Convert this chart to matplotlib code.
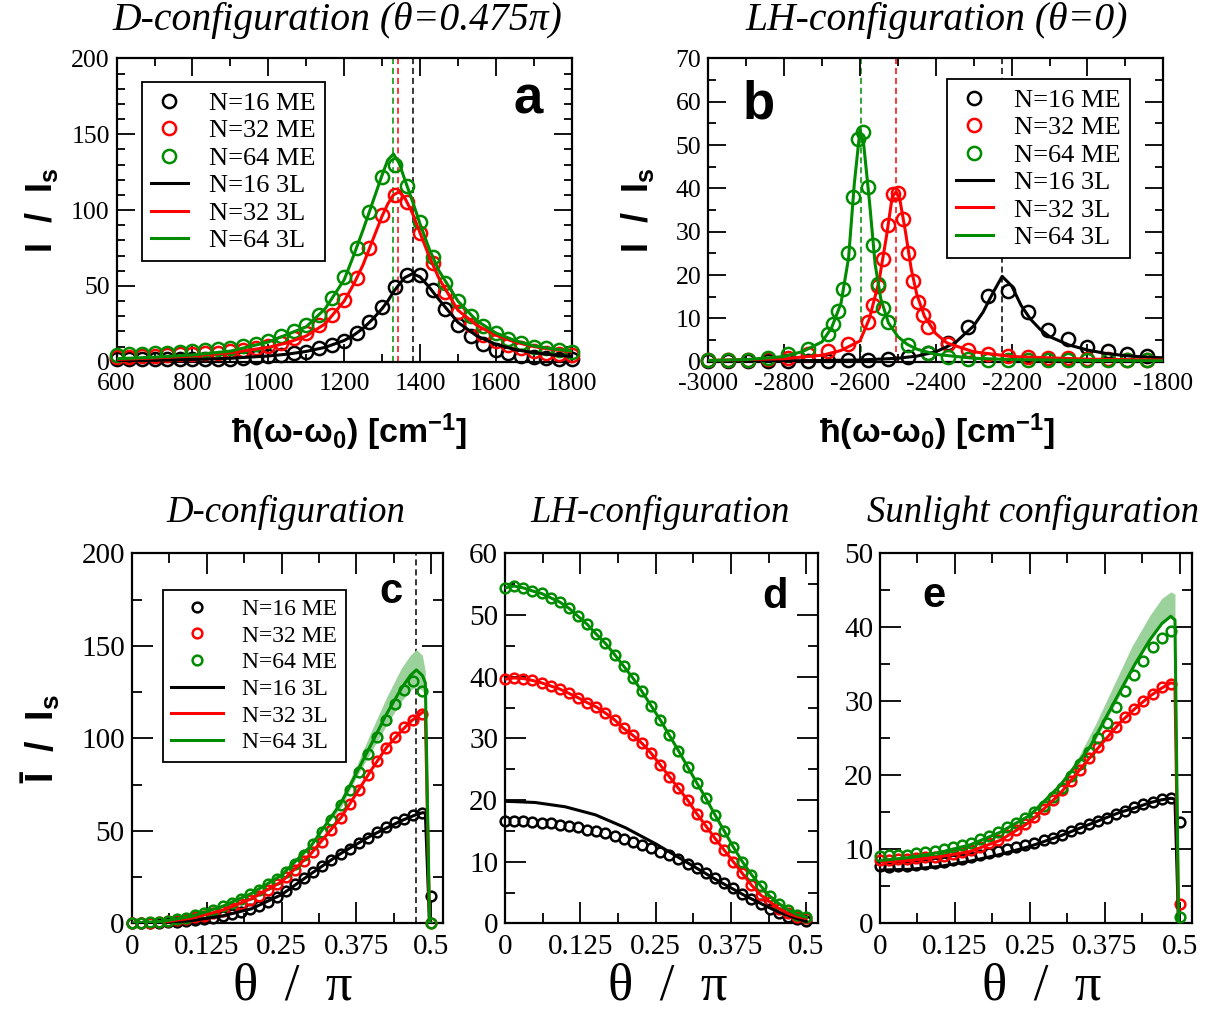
import numpy as np
import matplotlib
matplotlib.use('Agg')
import matplotlib.pyplot as plt
from matplotlib.ticker import MultipleLocator, FuncFormatter
from matplotlib.lines import Line2D

plt.rcParams['font.family'] = 'Liberation Serif'
plt.rcParams['axes.unicode_minus'] = False
plt.rcParams['mathtext.fontset'] = 'custom'
plt.rcParams['mathtext.rm'] = 'Liberation Sans:bold'
plt.rcParams['mathtext.it'] = 'Liberation Sans:bold'
plt.rcParams['mathtext.bf'] = 'Liberation Sans:bold'

BLACK, RED, GREEN = 'black', '#ff0000', '#008c00'
BAND = '#9bd29b'

# ---------------- panel a : D-configuration spectrum ----------------
a_x = np.linspace(600, 1800, 37)
a_me16 = [2, 2, 2, 1.5, 1.5, 1.5, 1.5, 1.5, 2, 2, 2.5, 3, 3.5, 4.4, 5.5, 6.6, 8.8, 11, 14, 19,
          26, 36, 49, 57, 57, 47, 35, 24, 17, 12, 8, 5.5, 3.7, 2.8, 2.2, 1.5, 1.5]
a_me32 = [3.3, 3.3, 3.7, 4, 4.4, 4.8, 5, 5.5, 6, 7, 7.7, 8.8, 10.3, 12.5, 15.4, 18.7, 24, 31, 41, 55,
          75, 97, 110, 105, 85, 65, 46, 33, 24, 17.5, 14, 11, 8.8, 7, 6, 5, 4.4]
a_me64 = [4.4, 5, 5, 5.5, 6, 6.6, 7, 7.7, 8.4, 9.2, 10.5, 12, 14, 17, 20, 24, 31, 42, 56, 75,
          99, 122, 130, 116, 92, 69, 52, 40, 30, 23.5, 19, 15, 12.5, 10, 9, 7.7, 6.6]
a_lx = [600, 700, 800, 900, 1000, 1050, 1100, 1150, 1200, 1225, 1250, 1275, 1300, 1315, 1330,
        1345, 1360, 1380, 1400, 1425, 1450, 1500, 1550, 1600, 1650, 1700, 1750, 1800]
a_3l16 = [0.5, 1, 1.5, 2.3, 3.8, 5, 6.8, 9.5, 14, 17.5, 22, 28, 35, 40, 46,
          51, 55.5, 58, 56, 49, 41, 26, 17, 11.5, 8, 6, 4.5, 3.5]
a_3l32 = [1.5, 2.5, 3.8, 6, 9.5, 12.5, 17, 25, 40, 51, 64, 80, 96, 104, 110,
          112, 108, 98, 85, 69, 55, 34, 24, 17.5, 13, 10, 8, 6.5]
a_3l64 = [2, 3, 4.5, 7, 13, 18, 23, 35, 54, 70, 87, 105, 123, 133, 137,
          131, 120, 106, 91, 74, 60, 40, 27, 19, 14, 10.5, 8.5, 7]
a_peaks = [1381, 1341, 1328]

# ---------------- panel b : LH-configuration spectrum ----------------
b_x16 = [-3000, -2947, -2895, -2842, -2789, -2737, -2684, -2631, -2579, -2526, -2474, -2421,
         -2368, -2316, -2263, -2210, -2158, -2105, -2052, -2000, -1947, -1895, -1842]
b_me16 = [0.1, 0.1, 0.1, 0.1, 0.2, 0.2, 0.2, 0.3, 0.5, 0.7, 1.0, 2.1,
          4.4, 8.0, 15.2, 16.3, 11.4, 7.4, 5.2, 3.5, 2.4, 1.8, 1.4]
b_x32 = [-3000, -2947, -2895, -2842, -2789, -2737, -2684, -2631, -2579, -2566, -2553, -2540,
         -2526, -2513, -2500, -2487, -2474, -2461, -2447, -2434, -2421, -2368, -2316, -2263,
         -2210, -2158, -2105, -2052, -2000, -1947, -1895, -1842]
b_me32 = [0.4, 0.4, 0.5, 0.6, 0.9, 1.7, 2.5, 4.0, 9.2, 13.1, 17.5, 23.7,
          31.6, 38.6, 39.0, 33.0, 25.0, 18.6, 13.8, 10.8, 8.1, 4.2, 2.6, 1.8,
          1.4, 1.1, 0.9, 0.8, 0.7, 0.6, 0.5, 0.5]
b_x64 = [-3000, -2947, -2895, -2842, -2789, -2737, -2684, -2671, -2658, -2645, -2631, -2618,
         -2605, -2592, -2579, -2566, -2553, -2540, -2526, -2474, -2421, -2368, -2316, -2263,
         -2210, -2158, -2105, -2052, -2000, -1947, -1895, -1842]
b_me64 = [0.4, 0.4, 0.5, 0.9, 1.7, 3.0, 6.5, 8.8, 11.8, 16.7, 25.2, 38.1,
          51.5, 52.9, 40.3, 26.9, 18.0, 12.5, 9.1, 3.8, 2.0, 1.0, 0.6, 0.5,
          0.4, 0.4, 0.3, 0.3, 0.3, 0.3, 0.3, 0.3]
b_lx16 = [-3000, -2800, -2600, -2500, -2450, -2400, -2350, -2300, -2275, -2250, -2225,
          -2200, -2175, -2150, -2125, -2100, -2050, -2000, -1950, -1900, -1850, -1800]
b_3l16 = [0.1, 0.2, 0.4, 0.8, 1.3, 2.3, 4.3, 8.3, 11.5, 15.8, 19.7,
          17.5, 13.0, 9.8, 7.5, 5.8, 3.9, 2.7, 1.9, 1.4, 1.1, 0.9]
b_lx32 = [-3000, -2800, -2700, -2650, -2600, -2575, -2550, -2530, -2515, -2505, -2495,
          -2480, -2465, -2450, -2430, -2400, -2370, -2300, -2200, -2000, -1800]
b_3l32 = [0.3, 0.7, 1.5, 2.6, 4.8, 10, 18.5, 29, 38, 39.2, 37.5,
          30, 21.5, 15.5, 10.5, 6.5, 4.3, 2.3, 1.2, 0.6, 0.4]
b_lx64 = [-3000, -2900, -2800, -2750, -2700, -2675, -2650, -2630, -2615, -2600, -2590, -2575,
          -2560, -2545, -2525, -2500, -2475, -2450, -2400, -2300, -2200, -2000, -1800]
b_3l64 = [0.3, 0.5, 1.2, 2.4, 4.6, 7.8, 13.5, 24, 41, 53.5, 50, 37,
          22.5, 14.5, 9, 5.8, 4.0, 2.9, 1.7, 0.8, 0.5, 0.3, 0.2]
b_peaks = [-2225, -2505, -2598]

# ---------------- panels c, d, e : angular dependence ----------------
theta = np.linspace(0, 0.5, 34)
c_me16 = [0, 0.1, 0.2, 0.3, 0.5, 0.8, 1.2, 1.7, 2.3, 3.1, 4.0, 5.0, 6.2, 7.6, 9.3, 11.3, 14.0,
          17.5, 21.1, 24.7, 27.7, 30.8, 34.1, 37.3, 40.4, 43.4, 46.3, 49.4, 52.1, 54.8, 56.6,
          58.4, 59.6, 14.8]
c_me32 = [0.1, 0.2, 0.4, 0.7, 1.1, 1.7, 2.4, 3.2, 4.2, 5.4, 6.8, 8.4, 10.3, 12.5, 15, 17.8, 21,
          24.8, 28.8, 33.5, 38.5, 44, 50.5, 57, 64.5, 72, 80, 88, 95, 101, 106, 110, 113.4, 0]
c_me64 = [0.2, 0.3, 0.5, 0.9, 1.4, 2.2, 3.1, 4.3, 5.8, 7.4, 9.2, 11.0, 13.1, 15.7, 18.2, 21.1,
          24.2, 27.7, 32.1, 37.0, 42.7, 49.4, 56.1, 63.8, 72.3, 81.8, 91.4, 100.7, 109.7, 118.4,
          126.3, 130.8, 125.6, 0]
c_lx = [0, 0.05, 0.1, 0.15, 0.2, 0.25, 0.3, 0.35, 0.4, 0.425, 0.45, 0.465, 0.475, 0.485, 0.49,
        0.497, 0.5]
c_3l16 = [0, 0.35, 1.5, 3.9, 7.9, 15.5, 27, 38, 47.5, 51.5, 55.5, 57.5, 58.8, 59.8, 59.8, 0, 0]
c_3l32 = [0.1, 0.6, 2.8, 6.9, 13.3, 22.5, 38, 57.5, 83, 95, 104, 109, 111.5, 114, 114.5, 0, 0]
c_3l64 = [0.2, 1.0, 3.8, 9, 16.2, 26, 42.2, 65.5, 97, 113, 127, 134, 137, 134, 130, 0, 0]
c_bx = [0.33, 0.35, 0.375, 0.4, 0.425, 0.45, 0.465, 0.475, 0.485, 0.49]
c_blo = [55, 63, 79, 93, 107, 120, 126, 128, 126, 122]
c_bhi = [57, 68, 85, 104, 122, 138, 145, 148, 145, 136]

d_me16 = [16.6, 16.6, 16.6, 16.5, 16.3, 16.2, 16.0, 15.8, 15.6, 15.2, 14.9, 14.6, 14.2, 13.7,
          13.2, 12.7, 12.2, 11.6, 11.1, 10.4, 9.7, 9.0, 8.2, 7.4, 6.6, 5.7, 4.8, 3.9, 3.1, 2.3,
          1.6, 1.1, 0.65, 0.4]
d_me32 = [39.6, 39.8, 39.7, 39.4, 39.0, 38.5, 38.0, 37.3, 36.6, 35.8, 35.1, 34.1, 33.0, 31.6,
          30.5, 29.2, 27.6, 25.7, 23.8, 21.9, 20.0, 17.8, 15.8, 13.8, 11.9, 10.0, 8.1, 6.2, 4.6,
          3.5, 2.4, 1.6, 1.1, 0.8]
d_me64 = [54.4, 54.7, 54.4, 53.9, 53.5, 52.8, 52.1, 51.1, 49.8, 48.5, 46.9, 45.4, 43.6, 41.7,
          39.8, 37.6, 35.3, 33.0, 30.5, 28.0, 25.4, 22.8, 20.3, 17.6, 15.0, 12.4, 10.0, 7.9, 6.1,
          4.4, 3.2, 2.2, 1.4, 1.0]
d_lx = [0, 0.05, 0.1, 0.15, 0.2, 0.25, 0.3, 0.35, 0.4, 0.45, 0.475, 0.5]
d_3l16 = [19.8, 19.6, 18.9, 17.6, 15.5, 12.9, 10.0, 7.1, 4.4, 2.0, 1.1, 0.3]

e_me16 = [7.7, 7.65, 7.7, 7.75, 7.85, 8.0, 8.1, 8.3, 8.5, 8.7, 9.0, 9.2, 9.45, 9.75, 10.0, 10.3,
          10.6, 10.8, 11.2, 11.6, 12.0, 12.5, 12.9, 13.4, 13.8, 14.3, 14.8, 15.2, 15.7, 16.1,
          16.4, 16.8, 17.0, 13.7]
e_me32 = [8.6, 8.6, 8.65, 8.7, 8.8, 8.9, 9.0, 9.15, 9.35, 9.6, 9.9, 10.3, 10.8, 11.3, 11.9,
          12.6, 13.4, 14.4, 15.5, 16.7, 18.0, 19.3, 20.7, 22.3, 23.8, 25.4, 26.5, 27.9, 29.0,
          30.1, 31.0, 31.9, 32.4, 2.6]
e_me64 = [9.1, 9.2, 9.2, 9.3, 9.5, 9.6, 9.8, 10.0, 10.3, 10.6, 10.9, 11.4, 11.8, 12.4, 13.0,
          13.6, 14.3, 15.0, 15.9, 17.1, 18.3, 19.9, 21.5, 23.1, 25.0, 27.1, 29.2, 31.4, 33.5,
          35.5, 37.3, 38.6, 39.5, 0.9]
e_lx = [0, 0.05, 0.1, 0.15, 0.2, 0.25, 0.3, 0.35, 0.4, 0.425, 0.45, 0.47, 0.485, 0.492, 0.498, 0.5]
e_3l16 = [7.2, 7.3, 7.7, 8.4, 9.3, 10.4, 11.8, 13.4, 15.0, 15.6, 16.3, 16.7, 16.9, 16.8, 0, 0]
e_3l32 = [8.3, 8.5, 9.0, 9.7, 11.2, 13.7, 17.5, 22.4, 27.1, 29.0, 30.7, 31.8, 32.5, 32.4, 0, 0]
e_3l64 = [8.5, 8.9, 9.6, 10.6, 12.3, 14.6, 18.6, 23.8, 31.3, 35.0, 38.3, 40.5, 41.5, 41.0, 0, 0]
e_bx = [0.3, 0.33, 0.36, 0.39, 0.42, 0.45, 0.47, 0.485, 0.492]
e_blo = [18.6, 21.2, 24.8, 29.3, 34.0, 38.3, 40.5, 41.5, 41.0]
e_bhi = [18.9, 22.3, 27.0, 32.2, 37.4, 41.6, 43.9, 44.8, 44.5]

labels = ['N=16 ME', 'N=32 ME', 'N=64 ME', 'N=16 3L', 'N=32 3L', 'N=64 3L']
colors = [BLACK, RED, GREEN]

fig = plt.figure(figsize=(12.05, 10.15), dpi=100)
ax_a = fig.add_axes([0.0968, 0.6436, 0.3776, 0.2989])
ax_b = fig.add_axes([0.5878, 0.6436, 0.3776, 0.2989])
ax_c = fig.add_axes([0.1093, 0.0903, 0.2586, 0.3645])
ax_d = fig.add_axes([0.4191, 0.0903, 0.2600, 0.3645])
ax_e = fig.add_axes([0.7303, 0.0903, 0.2587, 0.3645])

fmt = FuncFormatter(lambda v, p: f'{v:g}')


def style(ax, xmaj, xmin, ymaj, ymin, size, big, small):
    ax.xaxis.set_major_locator(MultipleLocator(xmaj))
    ax.xaxis.set_minor_locator(MultipleLocator(xmin))
    ax.yaxis.set_major_locator(MultipleLocator(ymaj))
    ax.yaxis.set_minor_locator(MultipleLocator(ymin))
    ax.xaxis.set_major_formatter(fmt)
    ax.yaxis.set_major_formatter(fmt)
    ax.tick_params(which='both', direction='in', top=True, right=True, width=1.3)
    ax.tick_params(which='major', length=big, labelsize=size, pad=5)
    ax.tick_params(axis='x', which='major', pad=8)
    ax.tick_params(which='minor', length=small)
    for s in ax.spines.values():
        s.set_linewidth(1.6)


def circles(ax, x, y, c, ms, mew):
    ax.plot(x, y, 'o', mfc='none', mec=c, mew=mew, ms=ms, zorder=3, clip_on=False)


def legend(ax, anchor, size, ms, mew, hl, spacing):
    hs = [Line2D([], [], ls='none', marker='o', mfc='none', mec=c, mew=mew, ms=ms) for c in colors]
    hs += [Line2D([], [], color=c, lw=2.2) for c in colors]
    leg = ax.legend(hs, labels, loc='upper left', bbox_to_anchor=anchor, borderaxespad=0,
                    fancybox=False, edgecolor='black', framealpha=1, handlelength=hl,
                    handletextpad=0.8, labelspacing=spacing, borderpad=0.35,
                    prop={'family': 'Liberation Serif', 'size': size})
    leg.get_frame().set_linewidth(1.3)
    leg.set_zorder(10)


def letter(ax, x, y, s, size):
    ax.text(x, y, s, transform=ax.transAxes, ha='center', va='baseline', fontsize=size,
            fontfamily='Liberation Sans', fontweight='bold', zorder=11)


sans_bold = dict(fontfamily='Liberation Sans', fontweight='bold')
ylab = 'I  /  I$_\\mathbf{s}$'
xlab = 'ħ(ω-ω$_\\mathbf{0}$) [cm$^\\mathbf{-1}$]'

# panel a
for xp, c in zip(a_peaks, colors):
    ax_a.axvline(xp, color=c, lw=1.1, dashes=(4, 2.5), zorder=1)
for y, c in zip([a_me16, a_me32, a_me64], colors):
    circles(ax_a, a_x, y, c, 9.5, 1.8)
for y, c in zip([a_3l16, a_3l32, a_3l64], colors):
    ax_a.plot(a_lx, y, color=c, lw=2.2, zorder=4)
ax_a.set_xlim(600, 1800)
ax_a.set_ylim(0, 200)
style(ax_a, 200, 100, 50, 10, 18.5, 13, 6)
legend(ax_a, (0.055, 0.921), 19, 9.5, 1.8, 1.4, 0.15)
letter(ax_a, 0.904, 0.819, 'a', 38)
ax_a.set_ylabel(ylab, fontsize=26, **sans_bold)
ax_a.yaxis.set_label_coords(-0.125, 0.5)
ax_a.set_xlabel(xlab, fontsize=24.5, **sans_bold)
ax_a.xaxis.set_label_coords(0.51, -0.165)
ax_a.text(0.486, 1.126, 'D-configuration (θ=0.475π)', transform=ax_a.transAxes,
          ha='center', va='center', fontsize=28.5, style='italic')

# panel b
for xp, c in zip(b_peaks, colors):
    ax_b.axvline(xp, color=c, lw=1.1, dashes=(4, 2.5), zorder=1)
for x, y, c in zip([b_x16, b_x32, b_x64], [b_me16, b_me32, b_me64], colors):
    circles(ax_b, x, y, c, 9.5, 1.8)
for x, y, c in zip([b_lx16, b_lx32, b_lx64], [b_3l16, b_3l32, b_3l64], colors):
    ax_b.plot(x, y, color=c, lw=2.2, zorder=4)
ax_b.set_xlim(-3000, -1800)
ax_b.set_ylim(0, 70)
style(ax_b, 200, 100, 10, 5, 18.5, 13, 6)
legend(ax_b, (0.524, 0.931), 19, 9.5, 1.8, 1.4, 0.15)
letter(ax_b, 0.111, 0.802, 'b', 38)
ax_b.set_ylabel(ylab, fontsize=26, **sans_bold)
ax_b.yaxis.set_label_coords(-0.115, 0.5)
ax_b.set_xlabel(xlab, fontsize=24.5, **sans_bold)
ax_b.xaxis.set_label_coords(0.503, -0.165)
ax_b.text(0.501, 1.126, 'LH-configuration (θ=0)', transform=ax_b.transAxes,
          ha='center', va='center', fontsize=28.5, style='italic')

# panel c
ax_c.axvline(0.475, color='black', lw=1.1, dashes=(4, 2.5), zorder=1)
ax_c.fill_between(c_bx, c_blo, c_bhi, color=BAND, lw=0, zorder=2)
for y, c in zip([c_me16, c_me32, c_me64], colors):
    circles(ax_c, theta, y, c, 7, 1.8)
for y, c in zip([c_3l16, c_3l32, c_3l64], colors):
    ax_c.plot(c_lx, y, color=c, lw=2.2, zorder=4)
ax_c.set_ylim(0, 200)
style(ax_c, 0.125, 0.0625, 50, 25, 21, 15, 7)
legend(ax_c, (0.101, 0.901), 17, 7, 1.8, 2.2, 0.22)
letter(ax_c, 0.832, 0.866, 'c', 30)
ax_c.set_ylabel('Ī  /  I$_\\mathbf{s}$', fontsize=27, **sans_bold)
ax_c.yaxis.set_label_coords(-0.225, 0.5)

# panel d
for y, c in zip([d_me16, d_me32, d_me64], colors):
    circles(ax_d, theta, y, c, 7, 1.8)
ax_d.plot(d_lx, d_3l16, color=BLACK, lw=2.2, zorder=4)
ax_d.plot(theta, d_me32, color=RED, lw=2.2, zorder=4)
ax_d.plot(theta, d_me64, color=GREEN, lw=2.2, zorder=4)
ax_d.set_ylim(0, 60)
style(ax_d, 0.125, 0.0625, 10, 5, 21, 15, 7)
letter(ax_d, 0.862, 0.852, 'd', 30)

# panel e
ax_e.fill_between(e_bx, e_blo, e_bhi, color=BAND, lw=0, zorder=2)
for y, c in zip([e_me16, e_me32, e_me64], colors):
    circles(ax_e, theta, y, c, 7, 1.8)
for y, c in zip([e_3l16, e_3l32, e_3l64], colors):
    ax_e.plot(e_lx, y, color=c, lw=2.2, zorder=4)
ax_e.set_ylim(0, 50)
style(ax_e, 0.125, 0.0625, 10, 5, 21, 15, 7)
letter(ax_e, 0.173, 0.856, 'e', 30)

for ax, title, xc in [(ax_c, 'D-configuration', 0.495), (ax_d, 'LH-configuration', 0.495),
                      (ax_e, 'Sunlight configuration', 0.49)]:
    ax.set_xlim(0, 0.52)
    ax.set_xlabel('θ  /  π', fontsize=38)
    ax.xaxis.set_label_coords(0.518, -0.105)
    ax.text(xc, 1.112, title, transform=ax.transAxes, ha='center', va='center',
            fontsize=26.5, style='italic')

fig.savefig('out.png', dpi=100)
